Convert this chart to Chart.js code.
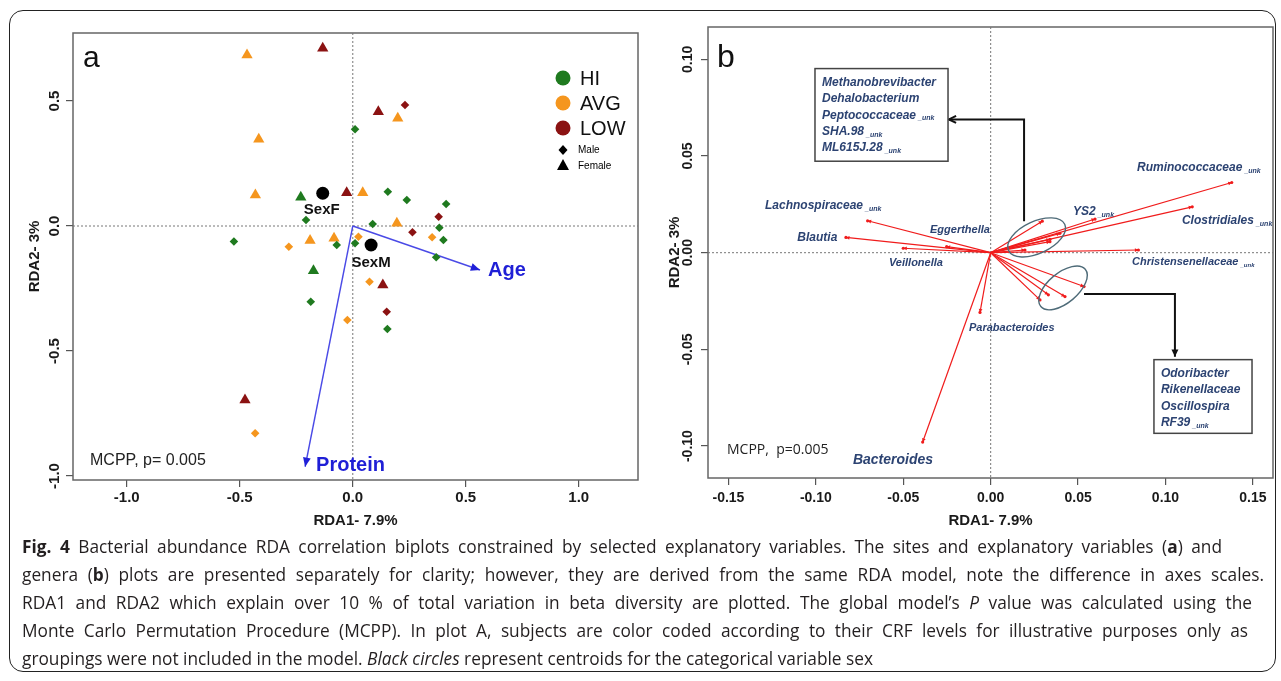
<!DOCTYPE html>
<html>
<head>
<meta charset="utf-8">
<script src="https://cdn.jsdelivr.net/npm/chart.js@4.4.0/dist/chart.umd.min.js"></script>
<style>
  body { margin: 0; background: #fff; width: 1281px; height: 681px; overflow: hidden; position: relative; }
  #frame { position: absolute; left: 9px; top: 10px; width: 1267px; height: 662px; border: 1.5px solid #222; border-radius: 14px; box-sizing: border-box; }
  #ca { position: absolute; left: 0; top: 0; }
  #cb { position: absolute; left: 650px; top: 0; }
  #caption { position: absolute; left: 22px; top: 533px; font-family: "Open Sans", sans-serif; font-size: 17.3px; line-height: 28px; color: #231f20; white-space: nowrap; }
  #caption div { height: 28px; }
  #caption .j { text-align: justify; text-align-last: justify; white-space: normal; }
</style>
</head>
<body>
<div id="frame"></div>
<canvas id="ca" width="650" height="540"></canvas>
<canvas id="cb" width="631" height="540"></canvas>
<div id="caption">
  <div class="j" style="width:1200px"><b>Fig. 4</b> Bacterial abundance RDA correlation biplots constrained by selected explanatory variables. The sites and explanatory variables (<b>a</b>) and</div>
  <div class="j" style="width:1242px">genera (<b>b</b>) plots are presented separately for clarity; however, they are derived from the same RDA model, note the difference in axes scales.</div>
  <div class="j" style="width:1230px">RDA1 and RDA2 which explain over 10 % of total variation in beta diversity are plotted. The global model’s <i>P</i> value was calculated using the</div>
  <div class="j" style="width:1226px">Monte Carlo Permutation Procedure (MCPP). In plot A, subjects are color coded according to their CRF levels for illustrative purposes only as</div>
  <div>groupings were not included in the model. <i>Black circles</i> represent centroids for the categorical variable sex</div>
</div>
<script>
// ---- panel a: site scores (RDA1, RDA2) by CRF level and sex ----
const hiMale = [[0.010, 0.387], [0.155, 0.137], [0.239, 0.104], [0.413, 0.088], [-0.207, 0.024], [0.088, 0.008],
  [0.383, -0.007], [0.401, -0.056], [-0.526, -0.062], [-0.071, -0.076], [0.010, -0.069], [0.369, -0.125],
  [-0.186, -0.303], [0.153, -0.412]];
const hiFemale = [[-0.230, 0.115], [-0.174, -0.179]];
const avgMale = [[-0.283, -0.083], [0.351, -0.045], [0.025, -0.043], [0.074, -0.223], [-0.024, -0.376], [-0.432, -0.829]];
const avgFemale = [[-0.468, 0.684], [-0.416, 0.347], [-0.431, 0.124], [0.199, 0.431], [0.044, 0.133], [0.195, 0.011],
  [-0.189, -0.058], [-0.083, -0.049]];
const lowMale = [[0.231, 0.484], [0.380, 0.037], [0.264, -0.025], [0.150, -0.343]];
const lowFemale = [[-0.133, 0.711], [0.113, 0.457], [-0.027, 0.133], [0.133, -0.236], [-0.477, -0.696]];
const centroidNames = ['SexF', 'SexM'];
const centroids = [[-0.133, 0.131], [0.081, -0.076]];
const envNames = ['Age', 'Protein'];
const envX = [0.563, -0.211];
const envY = [-0.176, -0.963];
const xTicksA = [-1.0, -0.5, 0.0, 0.5, 1.0];
const yTicksA = [-1.0, -0.5, 0.0, 0.5];

// ---- panel b: genus scores ----
const genera = ['Lachnospiraceae_unk', 'Blautia', 'Veillonella', 'Eggerthella', 'YS2_unk', 'Ruminococcaceae_unk',
  'Clostridiales_unk', 'Christensenellaceae_unk', 'Parabacteroides', 'Bacteroides',
  'Methanobrevibacter', 'Dehalobacterium', 'Peptococcaceae_unk', 'SHA.98_unk', 'ML615J.28_unk',
  'Odoribacter', 'Rikenellaceae', 'Oscillospira', 'RF39_unk'];
const rda1 = [-0.0704, -0.0828, -0.0500, -0.0252, 0.0597, 0.1379, 0.1153, 0.0845, -0.0061, -0.0389,
  0.0295, 0.0396, 0.0339, 0.0339, 0.0196, 0.0534, 0.0425, 0.0330, 0.0282];
const rda2 = [0.0165, 0.0079, 0.0023, 0.0031, 0.0174, 0.0363, 0.0237, 0.0014, -0.0309, -0.0979,
  0.0163, 0.0100, 0.0069, 0.0057, 0.0014, -0.0175, -0.0227, -0.0218, -0.0244];
const groupUp = ['Methanobrevibacter', 'Dehalobacterium', 'Peptococcaceae_unk', 'SHA.98_unk', 'ML615J.28_unk'];
const groupDown = ['Odoribacter', 'Rikenellaceae', 'Oscillospira', 'RF39_unk'];
const xTicksB = [-0.15, -0.10, -0.05, 0.00, 0.05, 0.10, 0.15];
const yTicksB = [-0.10, -0.05, 0.00, 0.05, 0.10];

// label anchors for panel b (data units, left edge / middle)
const labelSpots = {
  'Lachnospiraceae_unk': [-0.1291, 0.0241, 12],
  'Blautia': [-0.1106, 0.0078, 12],
  'Eggerthella': [-0.0347, 0.0117, 11],
  'Veillonella': [-0.0582, -0.0053, 11],
  'YS2_unk': [0.0471, 0.0210, 12],
  'Ruminococcaceae_unk': [0.0837, 0.0437, 12],
  'Clostridiales_unk': [0.1094, 0.0163, 12],
  'Christensenellaceae_unk': [0.0809, -0.0048, 11],
  'Parabacteroides': [-0.0124, -0.0388, 11],
  'Bacteroides': [-0.0788, -0.1074, 14]
};

const SANS = '"Liberation Sans", Arial, sans-serif';
const colHI = '#1f7a1f', colAVG = '#f5961e', colLOW = '#8b1212';

function rectBox(ctx, a) {
  ctx.save();
  ctx.strokeStyle = '#666';
  ctx.lineWidth = 1.5;
  ctx.strokeRect(a.left, a.top, a.right - a.left, a.bottom - a.top);
  ctx.restore();
}

function zeroLines(chart) {
  const ctx = chart.ctx, a = chart.chartArea;
  const x0 = chart.scales.x.getPixelForValue(0), y0 = chart.scales.y.getPixelForValue(0);
  ctx.save();
  ctx.strokeStyle = '#777';
  ctx.lineWidth = 1;
  ctx.setLineDash([2, 2]);
  ctx.beginPath();
  ctx.moveTo(x0, a.top); ctx.lineTo(x0, a.bottom);
  ctx.moveTo(a.left, y0); ctx.lineTo(a.right, y0);
  ctx.stroke();
  ctx.restore();
}

function tickLabels(chart, xs, ys, digits, font, yLabelX, xLabelY) {
  const ctx = chart.ctx;
  ctx.save();
  ctx.font = font;
  ctx.fillStyle = '#1a1a1a';
  ctx.textAlign = 'center';
  ctx.textBaseline = 'middle';
  xs.forEach(v => ctx.fillText(v.toFixed(digits), chart.scales.x.getPixelForValue(v), xLabelY));
  ys.forEach(v => {
    ctx.save();
    ctx.translate(yLabelX, chart.scales.y.getPixelForValue(v));
    ctx.rotate(-Math.PI / 2);
    ctx.fillText(v.toFixed(digits), 0, 0);
    ctx.restore();
  });
  ctx.restore();
}

function axisTitles(chart, yTitleX, xTitleY) {
  const ctx = chart.ctx, a = chart.chartArea;
  ctx.save();
  ctx.font = 'bold 15px ' + SANS;
  ctx.fillStyle = '#1a1a1a';
  ctx.textAlign = 'center';
  ctx.textBaseline = 'middle';
  ctx.fillText('RDA1- 7.9%', (a.left + a.right) / 2, xTitleY);
  ctx.translate(yTitleX, (a.top + a.bottom) / 2);
  ctx.rotate(-Math.PI / 2);
  ctx.fillText('RDA2- 3%', 0, 0);
  ctx.restore();
}

function arrowHead(ctx, x0, y0, x1, y1, len, spread, fill) {
  const ang = Math.atan2(y1 - y0, x1 - x0);
  ctx.beginPath();
  ctx.moveTo(x1 - len * Math.cos(ang - spread), y1 - len * Math.sin(ang - spread));
  ctx.lineTo(x1, y1);
  ctx.lineTo(x1 - len * Math.cos(ang + spread), y1 - len * Math.sin(ang + spread));
  if (fill) { ctx.closePath(); ctx.fill(); } else { ctx.stroke(); }
}

function axisOpts(min, max, ticks, side) {
  return {
    type: 'linear', min: min, max: max,
    afterBuildTicks: s => { s.ticks = ticks.map(v => ({ value: v })); },
    afterFit: s => { if (side.w !== undefined) s.width = side.w; else s.height = side.h; },
    ticks: { display: false },
    border: { display: false },
    grid: { drawOnChartArea: false, drawTicks: true, tickLength: 7, color: '#555', lineWidth: 1.2 }
  };
}

// ---------- panel a ----------
const pts = arr => arr.map(p => ({ x: p[0], y: p[1] }));
const diamond = (data, c) => ({ data: pts(data), pointStyle: 'rectRot', pointRadius: 4.3, backgroundColor: c, borderColor: c, borderWidth: 0 });
const tri = (data, c) => ({ data: pts(data), pointStyle: 'triangle', pointRadius: 6.5, backgroundColor: c, borderColor: c, borderWidth: 0 });

const panelA = {
  id: 'panelA',
  beforeDatasetsDraw(chart) {
    rectBox(chart.ctx, chart.chartArea);
    zeroLines(chart);
    // explanatory variable vectors
    const ctx = chart.ctx, sx = chart.scales.x, sy = chart.scales.y;
    const x0 = sx.getPixelForValue(0), y0 = sy.getPixelForValue(0);
    ctx.save();
    ctx.strokeStyle = '#4a4ae6';
    ctx.fillStyle = '#2020d8';
    ctx.lineWidth = 1.4;
    envNames.forEach((n, i) => {
      const x1 = sx.getPixelForValue(envX[i]), y1 = sy.getPixelForValue(envY[i]);
      ctx.beginPath(); ctx.moveTo(x0, y0); ctx.lineTo(x1, y1); ctx.stroke();
      arrowHead(ctx, x0, y0, x1, y1, 10, 0.4, true);
    });
    ctx.restore();
  },
  afterDatasetsDraw(chart) {
    const ctx = chart.ctx, a = chart.chartArea, sx = chart.scales.x, sy = chart.scales.y;
    ctx.save();
    // vector labels
    ctx.fillStyle = '#1f1fd6';
    ctx.font = 'bold 20px ' + SANS;
    ctx.textAlign = 'left';
    ctx.textBaseline = 'middle';
    const envOff = [[8, 0], [11, -1]];
    envNames.forEach((n, i) => {
      ctx.fillText(n, sx.getPixelForValue(envX[i]) + envOff[i][0], sy.getPixelForValue(envY[i]) + envOff[i][1]);
    });
    // centroid labels
    ctx.fillStyle = '#111';
    ctx.font = 'bold 15px ' + SANS;
    ctx.textAlign = 'center';
    const cOff = [[-1, 17], [0, 18]];
    centroidNames.forEach((n, i) => {
      ctx.fillText(n, sx.getPixelForValue(centroids[i][0]) + cOff[i][0], sy.getPixelForValue(centroids[i][1]) + cOff[i][1]);
    });
    // panel letter and test
    ctx.textAlign = 'left';
    ctx.font = '30px ' + SANS;
    ctx.fillText('a', a.left + 10, a.top + 26);
    ctx.font = '16px ' + SANS;
    ctx.fillStyle = '#222';
    ctx.fillText('MCPP, p= 0.005', a.left + 17, a.bottom - 19);
    // legend
    const lx = a.right - 75, ly = a.top + 45;
    const legNames = ['HI', 'AVG', 'LOW'], legCols = [colHI, colAVG, colLOW];
    legNames.forEach((n, i) => {
      ctx.fillStyle = legCols[i];
      ctx.beginPath(); ctx.arc(lx, ly + i * 25, 7.5, 0, Math.PI * 2); ctx.fill();
      ctx.fillStyle = '#111';
      ctx.font = '20px ' + SANS;
      ctx.fillText(n, lx + 17, ly + i * 25 + 1);
    });
    ctx.fillStyle = '#000';
    ctx.beginPath();
    ctx.moveTo(lx, ly + 67); ctx.lineTo(lx + 4.5, ly + 72); ctx.lineTo(lx, ly + 77); ctx.lineTo(lx - 4.5, ly + 72); ctx.closePath(); ctx.fill();
    ctx.beginPath();
    ctx.moveTo(lx, ly + 81); ctx.lineTo(lx + 6, ly + 92); ctx.lineTo(lx - 6, ly + 92); ctx.closePath(); ctx.fill();
    ctx.font = '10px ' + SANS;
    ctx.fillText('Male', lx + 15, ly + 72);
    ctx.fillText('Female', lx + 15, ly + 88);
    ctx.restore();
    tickLabels(chart, xTicksA, yTicksA, 1, 'bold 15px ' + SANS, 55, 498);
    axisTitles(chart, 35, 521);
  }
};

new Chart(document.getElementById('ca'), {
  type: 'scatter',
  data: {
    datasets: [
      diamond(hiMale, colHI), tri(hiFemale, colHI),
      diamond(avgMale, colAVG), tri(avgFemale, colAVG),
      diamond(lowMale, colLOW), tri(lowFemale, colLOW),
      { data: pts(centroids), pointStyle: 'circle', pointRadius: 6.5, backgroundColor: '#000', borderWidth: 0 }
    ]
  },
  options: {
    responsive: false,
    animation: false,
    layout: { padding: { top: 33, right: 12, left: 0, bottom: 0 } },
    plugins: { legend: { display: false }, tooltip: { enabled: false } },
    scales: {
      x: axisOpts(-1.238, 1.262, xTicksA, { h: 60 }),
      y: axisOpts(-1.016, 0.772, yTicksA, { w: 73 })
    }
  },
  plugins: [panelA]
});

// ---------- panel b ----------
function genusText(ctx, text, x, y, size) {
  let main = text, sub = '';
  if (text.endsWith('_unk')) { main = text.slice(0, -4); sub = '_unk'; }
  ctx.font = 'italic bold ' + size + 'px ' + SANS;
  ctx.fillText(main, x, y);
  if (sub) {
    const w = ctx.measureText(main).width;
    ctx.font = 'italic bold ' + Math.round(size * 0.55) + 'px ' + SANS;
    ctx.fillText(sub, x + w + 2, y + 3);
  }
}

const panelB = {
  id: 'panelB',
  beforeDatasetsDraw(chart) {
    const ctx = chart.ctx, sx = chart.scales.x, sy = chart.scales.y;
    rectBox(ctx, chart.chartArea);
    zeroLines(chart);
    const x0 = sx.getPixelForValue(0), y0 = sy.getPixelForValue(0);
    ctx.save();
    ctx.strokeStyle = '#f01c1c';
    ctx.fillStyle = '#f01c1c';
    ctx.lineWidth = 1.2;
    genera.forEach((g, i) => {
      const x1 = sx.getPixelForValue(rda1[i]), y1 = sy.getPixelForValue(rda2[i]);
      ctx.beginPath(); ctx.moveTo(x0, y0); ctx.lineTo(x1, y1); ctx.stroke();
      arrowHead(ctx, x0, y0, x1, y1, 4, 0.5, true);
    });
    ctx.restore();
  },
  afterDatasetsDraw(chart) {
    const ctx = chart.ctx, a = chart.chartArea, sx = chart.scales.x, sy = chart.scales.y;
    const P = (x, y) => [sx.getPixelForValue(x), sy.getPixelForValue(y)];
    ctx.save();
    // grouping ellipses
    ctx.strokeStyle = '#4e6b78';
    ctx.lineWidth = 1.4;
    let c = P(0.0263, 0.0079);
    ctx.beginPath(); ctx.ellipse(c[0], c[1], 31, 16, -25 * Math.PI / 180, 0, Math.PI * 2); ctx.stroke();
    c = P(0.0414, -0.0182);
    ctx.beginPath(); ctx.ellipse(c[0], c[1], 29, 15, -40 * Math.PI / 180, 0, Math.PI * 2); ctx.stroke();
    // connectors to the boxes
    ctx.strokeStyle = '#111';
    ctx.fillStyle = '#111';
    ctx.lineWidth = 2;
    let p1 = P(0.0191, 0.0163), p2 = P(0.0191, 0.0689), p3 = P(-0.0239, 0.0689);
    ctx.beginPath(); ctx.moveTo(p1[0], p1[1]); ctx.lineTo(p2[0], p2[1]); ctx.lineTo(p3[0], p3[1]); ctx.stroke();
    arrowHead(ctx, p2[0], p2[1], p3[0], p3[1], 8, 0.45, false);
    p1 = P(0.0534, -0.0213); p2 = P(0.1054, -0.0213); p3 = P(0.1054, -0.0538);
    ctx.beginPath(); ctx.moveTo(p1[0], p1[1]); ctx.lineTo(p2[0], p2[1]); ctx.lineTo(p3[0], p3[1]); ctx.stroke();
    arrowHead(ctx, p2[0], p2[1], p3[0], p3[1], 8, 0.45, true);
    // boxes
    ctx.lineWidth = 1.5;
    ctx.strokeStyle = '#444';
    const drawBox = (x0, y0, x1, y1, names) => {
      const q0 = P(x0, y0), q1 = P(x1, y1);
      ctx.fillStyle = '#fff';
      ctx.fillRect(q0[0], q0[1], q1[0] - q0[0], q1[1] - q0[1]);
      ctx.strokeRect(q0[0], q0[1], q1[0] - q0[0], q1[1] - q0[1]);
      ctx.fillStyle = '#2c4372';
      ctx.textAlign = 'left';
      ctx.textBaseline = 'middle';
      names.forEach((n, i) => genusText(ctx, n, q0[0] + 7, q0[1] + 14 + i * 16.4, 12));
    };
    drawBox(-0.1005, 0.0952, -0.0244, 0.0473, groupUp);
    drawBox(0.0934, -0.0553, 0.1495, -0.0934, groupDown);
    // genus labels
    ctx.fillStyle = '#2c4372';
    ctx.textAlign = 'left';
    ctx.textBaseline = 'middle';
    Object.keys(labelSpots).forEach(n => {
      const s = labelSpots[n], q = P(s[0], s[1]);
      genusText(ctx, n, q[0], q[1], s[2]);
    });
    // panel letter and test
    ctx.fillStyle = '#111';
    ctx.font = '32px ' + SANS;
    ctx.fillText('b', a.left + 9, a.top + 31);
    ctx.fillStyle = '#222';
    ctx.font = '14px "Open Sans", sans-serif';
    ctx.fillText('MCPP,  p=0.005', a.left + 19, a.bottom - 28);
    ctx.restore();
    tickLabels(chart, xTicksB, yTicksB, 2, 'bold 14px ' + SANS, 38, 498);
    axisTitles(chart, 25, 521);
  }
};

new Chart(document.getElementById('cb'), {
  type: 'scatter',
  data: {
    datasets: [
      { data: genera.map((g, i) => ({ x: rda1[i], y: rda2[i] })), pointRadius: 1.6, backgroundColor: '#f01c1c', borderWidth: 0 }
    ]
  },
  options: {
    responsive: false,
    animation: false,
    layout: { padding: { top: 27, right: 8, left: 0, bottom: 0 } },
    plugins: { legend: { display: false }, tooltip: { enabled: false } },
    scales: {
      x: axisOpts(-0.1617, 0.1615, xTicksB, { h: 62 }),
      y: axisOpts(-0.1165, 0.1167, yTicksB, { w: 58 })
    }
  },
  plugins: [panelB]
});
</script>
</body>
</html>
